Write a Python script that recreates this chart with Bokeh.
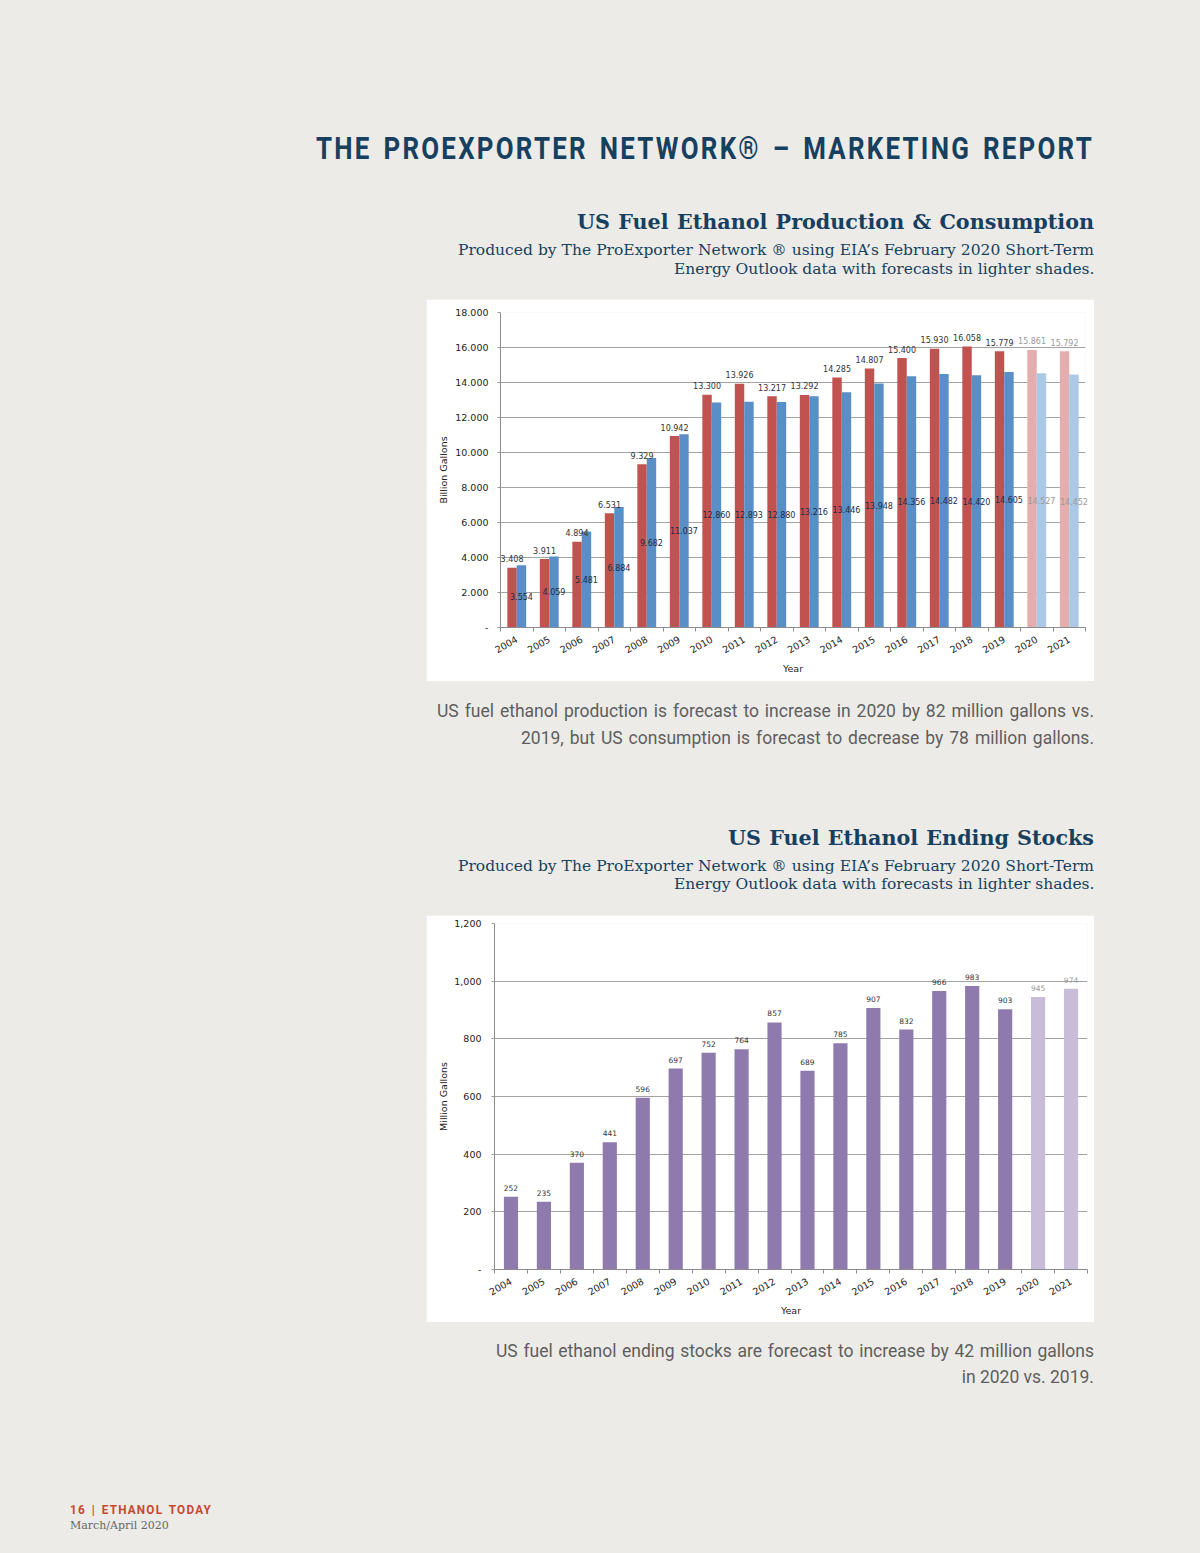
from math import pi
from bokeh.plotting import figure
from bokeh.models import Range1d, FixedTicker, ColumnDataSource, Spacer, Div
from bokeh.layouts import column, row
from bokeh.core.properties import value
from bokeh.embed import file_html
from bokeh.resources import INLINE

# ---------------- data ----------------
years = [str(y) for y in range(2004, 2022)]
production = [3.408, 3.911, 4.894, 6.531, 9.329, 10.942, 13.300, 13.926, 13.217,
              13.292, 14.285, 14.807, 15.400, 15.930, 16.058, 15.779, 15.861, 15.792]
consumption = [3.554, 4.059, 5.481, 6.884, 9.682, 11.037, 12.860, 12.893, 12.880,
               13.216, 13.446, 13.948, 14.356, 14.482, 14.420, 14.605, 14.527, 14.452]
stocks = [252, 235, 370, 441, 596, 697, 752, 764, 857, 689, 785, 907, 832, 966,
          983, 903, 945, 974]
forecast = [False] * 16 + [True, True]
y1_ticks = [0, 2, 4, 6, 8, 10, 12, 14, 16, 18]
y1_labels = ["-", "2.000", "4.000", "6.000", "8.000", "10.000", "12.000",
             "14.000", "16.000", "18.000"]
y2_ticks = [0, 200, 400, 600, 800, 1000, 1200]
y2_labels = ["-", "200", "400", "600", "800", "1,000", "1,200"]

# ---------------- styles ----------------
PAGE_BG = "#ECEBE7"
NAVY = "#173F5F"
RED, RED_F = "#C0534F", "#E3AEAD"
BLUE, BLUE_F = "#5A8EC6", "#ABC8E6"
PURPLE, PURPLE_F = "#8F7AAE", "#C7BDD9"
LBL, LBL_F = "#333333", "#9A9A9A"
AXIS_FONT = "DejaVu Sans"
SERIF = "'DejaVu Serif'"
SANS = "Roboto"
CAP = "#5E5E5E"

n = len(years)
xs = list(range(1, n + 1))


def style_axes(p, yticks, ylabels, ylabel, y_standoff, ylab_standoff):
    p.xaxis.ticker = FixedTicker(ticks=xs, minor_ticks=[i + 0.5 for i in range(0, n + 1)])
    p.xaxis.major_label_overrides = {x: y for x, y in zip(xs, years)}
    p.xaxis.major_tick_out = 0
    p.xaxis.major_tick_in = 0
    p.xaxis.minor_tick_out = 4
    p.xaxis.minor_tick_in = 0
    p.xaxis.minor_tick_line_color = "#8C8C8C"
    p.xaxis.major_label_orientation = pi / 6
    p.xaxis.major_label_standoff = 7
    p.xaxis.axis_label = "Year"
    p.xaxis.axis_label_standoff = 3
    p.yaxis.ticker = FixedTicker(ticks=yticks, minor_ticks=[])
    p.yaxis.major_label_overrides = {t: l for t, l in zip(yticks, ylabels)}
    p.yaxis.major_tick_out = 3
    p.yaxis.major_tick_in = 0
    p.yaxis.minor_tick_out = 0
    p.yaxis.minor_tick_in = 0
    p.yaxis.major_tick_line_color = "#9A9A9A"
    p.yaxis.major_label_standoff = y_standoff
    p.yaxis.axis_label = ylabel
    p.yaxis.axis_label_standoff = ylab_standoff
    for ax in (p.xaxis[0], p.yaxis[0]):
        ax.axis_line_color = "#8C8C8C"
        ax.major_label_text_font = AXIS_FONT
        ax.major_label_text_font_size = "9.5px"
        ax.major_label_text_color = "#222222"
        ax.axis_label_text_font = AXIS_FONT
        ax.axis_label_text_font_size = "9.5px"
        ax.axis_label_text_font_style = "normal"
        ax.axis_label_text_color = "#222222"
    p.xgrid.grid_line_color = None
    p.ygrid.grid_line_color = "#A3A3A3"
    p.ygrid.grid_line_width = 1


# ---------------- chart 1 ----------------
src1 = ColumnDataSource(dict(
    xp=[x - 0.145 for x in xs],
    xc=[x + 0.145 for x in xs],
    prod=production,
    cons=consumption,
    cons_mid=[v / 2 for v in consumption],
    prod_lbl=[f"{v:.3f}" for v in production],
    cons_lbl=[f"{v:.3f}" for v in consumption],
    prod_col=[RED_F if f else RED for f in forecast],
    cons_col=[BLUE_F if f else BLUE for f in forecast],
    lbl_col=[LBL_F if f else LBL for f in forecast],
    lbl2_col=[LBL_F if f else "#1C2B45" for f in forecast],
))

p1 = figure(width=668, height=382, x_range=Range1d(0.5, n + 0.5), y_range=Range1d(0, 18),
            output_backend="svg", toolbar_location=None,
            min_border_left=74, min_border_right=9, min_border_top=13, min_border_bottom=54,
            background_fill_color="white", border_fill_color="white", outline_line_color=None)
style_axes(p1, y1_ticks, y1_labels, "Billion Gallons", 9, 3)
p1.vbar(x="xp", top="prod", width=0.29, bottom=0, fill_color="prod_col", line_color=None, source=src1)
p1.vbar(x="xc", top="cons", width=0.29, bottom=0, fill_color="cons_col", line_color=None, source=src1)
p1.text(x="xp", y="prod", text="prod_lbl", text_color="lbl_col", text_font=value(AXIS_FONT),
        text_font_size="8px", text_align="center", text_baseline="middle", y_offset=-9,
        source=src1, level="annotation")
p1.text(x="xc", y="cons_mid", text="cons_lbl", text_color="lbl2_col", text_font=value(AXIS_FONT),
        text_font_size="8px", text_align="center", text_baseline="middle",
        source=src1, level="annotation")

# ---------------- chart 2 ----------------
src2 = ColumnDataSource(dict(
    x=xs,
    stocks=stocks,
    lbl=[str(v) for v in stocks],
    col=[PURPLE_F if f else PURPLE for f in forecast],
    lbl_col=[LBL_F if f else LBL for f in forecast],
))
p2 = figure(width=668, height=407, x_range=Range1d(0.5, n + 0.5), y_range=Range1d(0, 1200),
            output_backend="svg", toolbar_location=None,
            min_border_left=68, min_border_right=7, min_border_top=8, min_border_bottom=53,
            background_fill_color="white", border_fill_color="white", outline_line_color=None)
style_axes(p2, y2_ticks, y2_labels, "Million Gallons", 10, 2)
p2.vbar(x="x", top="stocks", width=0.43, bottom=0, fill_color="col", line_color=None, source=src2)
p2.text(x="x", y="stocks", text="lbl", text_color="lbl_col", text_font=value(AXIS_FONT),
        text_font_size="7.5px", text_align="center", text_baseline="middle", y_offset=-9,
        source=src2, level="annotation")


# ---------------- page texts ----------------
def text_line(txt, x0, x1, cy, div_top, family, size, color, weight=400, extra="",
              scale=None, align="justify"):
    L = round(size * 1.4)
    top = cy - L / 2 - div_top
    width = x1 - x0
    tr = ""
    if scale:
        width = width / scale
        tr = f"transform:scaleX({scale});transform-origin:0 50%;"
    al = ("text-align:justify;text-align-last:justify;" if align == "justify"
          else f"text-align:{align};")
    return (f'<div style="position:absolute;left:{x0}px;top:{top:.1f}px;width:{width:.1f}px;'
            f'height:{L}px;line-height:{L}px;font-family:{family};font-size:{size}px;'
            f'font-weight:{weight};color:{color};{al}'
            f'white-space:nowrap;{tr}{extra}">{txt}</div>')


def page_div(lines, height):
    html = (f'<div style="position:relative;width:1200px;height:{height}px;margin:0;padding:0;">'
            + "".join(lines) + "</div>")
    return Div(text=html, width=1200, height=height, margin=0)


SUB1 = "Produced by The ProExporter Network &reg; using EIA&rsquo;s February 2020 Short-Term"
SUB2 = "Energy Outlook data with forecasts in lighter shades."

top_div = page_div([
    text_line("THE PROEXPORTER NETWORK&reg; &ndash; MARKETING REPORT", 316, 1094, 148, 0,
              SANS, 31, NAVY, 700, "letter-spacing:2.7px;", scale=0.835),
    text_line("US Fuel Ethanol Production &amp; Consumption", 577, 1094, 222, 0, SERIF, 20.7, NAVY, 700),
    text_line(SUB1, 458, 1094, 250, 0, SERIF, 15.5, NAVY),
    text_line(SUB2, 674, 1094, 269, 0, SERIF, 15.5, NAVY),
], 299)

mid_div = page_div([
    text_line("US fuel ethanol production is forecast to increase in 2020 by 82 million gallons vs.",
              437, 1094, 711, 681, SANS, 17.5, CAP),
    text_line("2019, but US consumption is forecast to decrease by 78 million gallons.",
              521, 1094, 738, 681, SANS, 17.5, CAP),
    text_line("US Fuel Ethanol Ending Stocks", 728, 1094, 838, 681, SERIF, 20.7, NAVY, 700),
    text_line(SUB1, 458, 1094, 866, 681, SERIF, 15.5, NAVY),
    text_line(SUB2, 674, 1094, 884, 681, SERIF, 15.5, NAVY),
], 234)

bot_div = page_div([
    text_line("US fuel ethanol ending stocks are forecast to increase by 42 million gallons",
              496, 1094, 1351, 1322, SANS, 17.5, CAP),
    text_line("in 2020 vs. 2019.", 951, 1094, 1377, 1322, SANS, 17.5, CAP, align="right"),
    text_line("16 | ETHANOL TODAY", 70, 212, 1509, 1322, SANS, 13.5, "#C8472F", 700,
              "letter-spacing:1.4px;", scale=0.87),
    text_line("March/April 2020", 70, 169, 1525, 1322, SERIF, 11, "#666666", align="left"),
], 231)

layout = column(
    top_div,
    row(Spacer(width=426, height=382, margin=0), p1),
    mid_div,
    row(Spacer(width=426, height=407, margin=0), p2),
    bot_div,
)

html = file_html(layout, INLINE, title="ProExporter Network - Marketing Report")
html = html.replace(
    "<head>",
    f"<head><style>html,body{{background:{PAGE_BG};margin:0;padding:0;}}</style>", 1)
open("out.html", "w", encoding="utf-8").write(html)
